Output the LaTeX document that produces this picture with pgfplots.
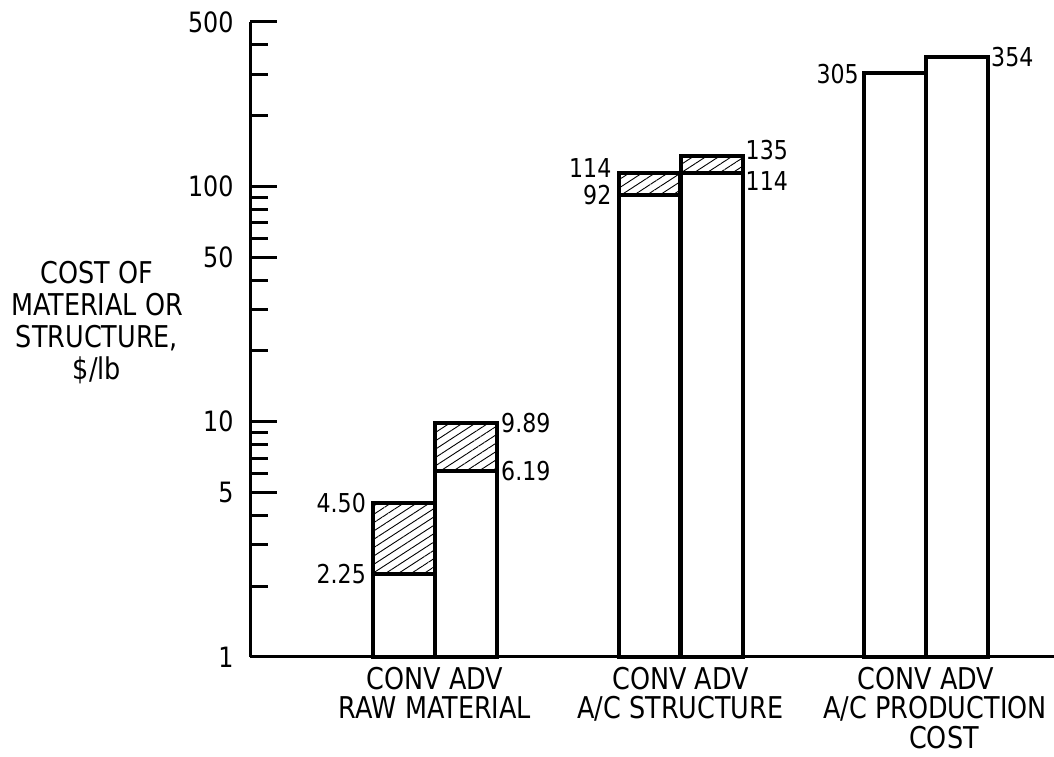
\documentclass[border=0pt]{standalone}
\usepackage{fontspec}
\setmainfont{DejaVu Sans}[FakeStretch=0.85]
\usepackage{pgfplots}
\pgfplotsset{compat=1.18}
\usetikzlibrary{patterns.meta}
\newcommand\vl{\fontsize{26}{28}\selectfont}
\begin{document}
\begin{tikzpicture}
\useasboundingbox (0pt,0pt) rectangle (1054pt,757pt);
\begin{axis}[
  at={(250pt,100pt)}, anchor=south west,
  scale only axis, width=804pt, height=635pt,
  ymode=log, ymin=1, ymax=500,
  xmin=-0.7536, xmax=2.5214,
  axis x line=bottom, axis y line=left,
  axis line style={line width=3pt,-},
  every outer x axis line/.append style={-},
  every outer y axis line/.append style={-},
  ytick={1,5,10,50,100,500},
  yticklabels={1,5,10,50,100,500},
  minor ytick={2,3,4,6,7,8,9,20,30,40,60,70,80,90,200,300,400},
  tick align=inside,
  major tick length=27pt, minor tick length=18pt,
  ytick style={line width=3pt,black},
  xtick={0,1,2},
  xticklabels={{CONV ADV\\RAW MATERIAL},{CONV ADV\\A/C STRUCTURE},{CONV ADV\\\hspace*{18pt}A/C PRODUCTION\\\hspace*{36pt}COST}},
  xtick style={draw=none},
  xticklabel style={align=center,font=\fontsize{30}{29.5}\selectfont, inner sep=1pt, yshift=-9pt},
  yticklabel style={font=\fontsize{28}{30}\selectfont, xshift=-13pt},
  clip=false,
]
% conventional: total (hatched) then base (white)
\addplot[ybar, bar width=0.2525, bar shift=-0.1263, draw=black, line width=4pt,
  pattern={Lines[angle=33,distance=7pt,line width=0.9pt]}, pattern color=black]
  coordinates {(0,4.50) (1,114)};
\addplot[ybar, bar width=0.2525, bar shift=-0.1263, draw=black, line width=4pt, fill=white]
  coordinates {(0,2.25) (1,92) (2,305)};
% advanced
\addplot[ybar, bar width=0.2525, bar shift=0.1263, draw=black, line width=4pt,
  pattern={Lines[angle=33,distance=7pt,line width=0.9pt]}, pattern color=black]
  coordinates {(0,9.89) (1,135)};
\addplot[ybar, bar width=0.2525, bar shift=0.1263, draw=black, line width=4pt, fill=white]
  coordinates {(0,6.19) (1,114) (2,354)};

\node[anchor=east,inner sep=7pt,font=\vl] at (axis cs:-0.2525,4.5) {4.50};
\node[anchor=east,inner sep=7pt,font=\vl] at (axis cs:-0.2525,2.25) {2.25};
\node[anchor=west,inner sep=4pt,font=\vl] at (axis cs:0.2525,9.89) {9.89};
\node[anchor=west,inner sep=4pt,font=\vl] at (axis cs:0.2525,6.19) {6.19};
\node[anchor=east,inner sep=7pt,font=\vl,yshift=5pt] at (axis cs:0.7475,114) {114};
\node[anchor=east,inner sep=7pt,font=\vl] at (axis cs:0.7475,92) {92};
\node[anchor=west,inner sep=3pt,font=\vl,yshift=6pt] at (axis cs:1.2525,135) {135};
\node[anchor=west,inner sep=3pt,font=\vl,yshift=-8pt] at (axis cs:1.2525,114) {114};
\node[anchor=east,inner sep=5pt,font=\vl,yshift=-2pt] at (axis cs:1.7475,305) {305};
\node[anchor=west,inner sep=3pt,font=\vl] at (axis cs:2.2525,354) {354};
\end{axis}
\node[align=center,font=\fontsize{30}{32}\selectfont] at (97pt,434pt) {COST OF\\MATERIAL OR\\STRUCTURE,\\\$/lb};
\end{tikzpicture}
\end{document}
